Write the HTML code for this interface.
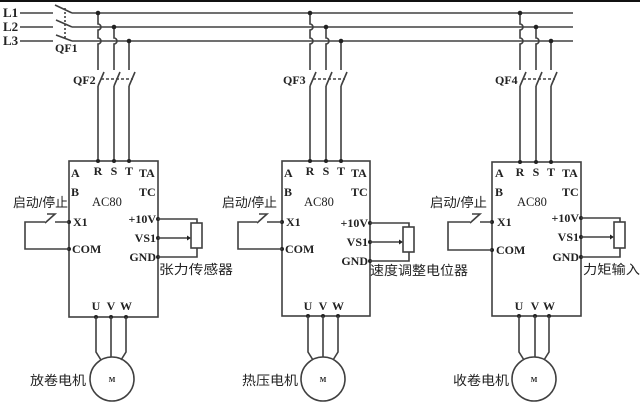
<!DOCTYPE html>
<html><head><meta charset="utf-8"><style>
html,body{margin:0;padding:0;background:#fff;}
svg{display:block;}
.ln{stroke:#404040;stroke-width:1.6;fill:none;}
.t{font-family:"Liberation Serif",serif;font-size:12px;fill:#222;font-weight:bold;}
.c{font-family:"Liberation Sans","Noto Sans CJK SC",sans-serif;font-size:13px;fill:#222;}
.d{fill:#222;}
</style></head><body>
<svg width="640" height="409" viewBox="0 0 640 409" xmlns="http://www.w3.org/2000/svg">
<rect x="0" y="0" width="640" height="409" fill="#fff"/>
<rect x="0" y="0" width="640" height="2" fill="#111"/>

<!-- bus -->
<text class="t" x="3" y="17" style="font-size:13px">L1</text>
<text class="t" x="3" y="31" style="font-size:13px">L2</text>
<text class="t" x="3" y="45" style="font-size:13px">L3</text>
<path class="ln" d="M20,13 H53 M55,5 L72,13 M72,13 H573 M20,27 H53 M56,20 L72,27 M72,27 H573 M20,41 H53 M56,35 L72,41 M72,41 H573"/>
<path class="ln" d="M65,8 V40" stroke-dasharray="2,2" stroke-width="1.2"/>
<text class="t" x="55" y="52">QF1</text>

<!-- drive 1 -->
<g>
<path class="ln" d="M98,13 V24 a3,3 0 0 1 0,6 V38 a3,3 0 0 1 0,6 V70 M114,27 V38 a3,3 0 0 1 0,6 V70 M129,41 V70"/>
<circle class="d" cx="98" cy="13" r="2.3"/><circle class="d" cx="114" cy="27" r="2.3"/><circle class="d" cx="129" cy="41" r="2.3"/>
<path class="ln" d="M98,86 L104,72 M114,86 L120,72 M129,86 L135,72"/>
<path class="ln" d="M101,79 H133" stroke-dasharray="3,2" stroke-width="1.2"/>
<text class="t" x="73" y="84">QF2</text>
<path class="ln" d="M98,86 V161 M114,86 V161 M129,86 V161"/>
<rect class="ln" x="69" y="161" width="89" height="156"/>
<circle class="d" cx="98" cy="161" r="2"/><circle class="d" cx="114" cy="161" r="2"/><circle class="d" cx="129" cy="161" r="2"/>
<text class="t" x="98" y="175" text-anchor="middle">R</text>
<text class="t" x="114" y="175" text-anchor="middle">S</text>
<text class="t" x="129" y="175" text-anchor="middle">T</text>
<text class="t" x="71" y="177">A</text>
<text class="t" x="71" y="196">B</text>
<text class="t" x="139" y="177">TA</text>
<text class="t" x="139" y="196">TC</text>
<text class="t" x="92" y="206" style="font-weight:normal;font-size:12.5px">AC80</text>
<text class="t" x="73" y="226">X1</text>
<text class="t" x="72" y="253">COM</text>
<text class="t" x="156" y="223" text-anchor="end">+10V</text>
<text class="t" x="156" y="242" text-anchor="end">VS1</text>
<text class="t" x="156" y="261" text-anchor="end">GND</text>
<circle class="d" cx="69" cy="222" r="2"/><circle class="d" cx="69" cy="249" r="2"/>
<path class="ln" d="M69,222 H55 M47,214 H55 L45,223 M45,222 H25 V249 H69"/>
<text class="c" x="13" y="207" textLength="55" lengthAdjust="spacingAndGlyphs">启动/停止</text>
<circle class="d" cx="158" cy="219" r="2"/><circle class="d" cx="158" cy="238" r="2"/><circle class="d" cx="158" cy="257" r="2"/>
<path class="ln" d="M158,219 H197 V223 M158,257 H197 V248 M158,238 H188"/>
<path class="d" d="M191,238 l-4,-2.5 v5 z"/>
<rect class="ln" x="191" y="223" width="11" height="25"/>
<text class="c" x="159" y="274" textLength="74" lengthAdjust="spacingAndGlyphs">张力传感器</text>
<text class="t" x="96" y="310" text-anchor="middle">U</text>
<text class="t" x="111" y="310" text-anchor="middle">V</text>
<text class="t" x="126" y="310" text-anchor="middle">W</text>
<circle class="d" cx="96" cy="317" r="2"/><circle class="d" cx="111" cy="317" r="2"/><circle class="d" cx="126" cy="317" r="2"/>
<path class="ln" d="M96,317 V352 L101,360 M111,317 V357 M126,317 V352 L121,360"/>
<circle class="ln" cx="112" cy="379" r="22"/>
<text class="t" x="112" y="382" text-anchor="middle" style="font-size:7px">M</text>
<text class="c" x="30" y="385" textLength="56" lengthAdjust="spacingAndGlyphs">放卷电机</text>
</g>

<!-- drive 2 -->
<g transform="translate(212,0)">
<path class="ln" d="M98,13 V24 a3,3 0 0 1 0,6 V38 a3,3 0 0 1 0,6 V70 M114,27 V38 a3,3 0 0 1 0,6 V70 M129,41 V70"/>
<circle class="d" cx="98" cy="13" r="2.3"/><circle class="d" cx="114" cy="27" r="2.3"/><circle class="d" cx="129" cy="41" r="2.3"/>
<path class="ln" d="M98,86 L104,72 M114,86 L120,72 M129,86 L135,72"/>
<path class="ln" d="M101,79 H133" stroke-dasharray="3,2" stroke-width="1.2"/>
<text class="t" x="71" y="84">QF3</text>
<path class="ln" d="M98,86 V161 M114,86 V161 M129,86 V161"/>
<rect class="ln" x="70" y="161" width="88" height="155"/>
<circle class="d" cx="98" cy="161" r="2"/><circle class="d" cx="114" cy="161" r="2"/><circle class="d" cx="129" cy="161" r="2"/>
<text class="t" x="98" y="175" text-anchor="middle">R</text>
<text class="t" x="114" y="175" text-anchor="middle">S</text>
<text class="t" x="129" y="175" text-anchor="middle">T</text>
<text class="t" x="72" y="177">A</text>
<text class="t" x="72" y="196">B</text>
<text class="t" x="139" y="177">TA</text>
<text class="t" x="139" y="196">TC</text>
<text class="t" x="92" y="206" style="font-weight:normal;font-size:12.5px">AC80</text>
<text class="t" x="74" y="226">X1</text>
<text class="t" x="73" y="253">COM</text>
<circle class="d" cx="70" cy="222" r="2"/><circle class="d" cx="70" cy="249" r="2"/>
<path class="ln" d="M70,222 H55 M47,214 H55 L45,223 M45,222 H26 V249 H70"/>
<text class="c" x="10" y="207" textLength="55" lengthAdjust="spacingAndGlyphs">启动/停止</text>
<g transform="translate(0,4)">
<text class="t" x="156" y="223" text-anchor="end">+10V</text>
<text class="t" x="156" y="242" text-anchor="end">VS1</text>
<text class="t" x="156" y="261" text-anchor="end">GND</text>
<circle class="d" cx="158" cy="219" r="2"/><circle class="d" cx="158" cy="238" r="2"/><circle class="d" cx="158" cy="257" r="2"/>
<path class="ln" d="M158,219 H197 V223 M158,257 H197 V248 M158,238 H188"/>
<path class="d" d="M191,238 l-4,-2.5 v5 z"/>
<rect class="ln" x="191" y="223" width="11" height="25"/>
</g>
<text class="c" x="158" y="275" textLength="98" lengthAdjust="spacingAndGlyphs">速度调整电位器</text>
<text class="t" x="96" y="310" text-anchor="middle">U</text>
<text class="t" x="111" y="310" text-anchor="middle">V</text>
<text class="t" x="126" y="310" text-anchor="middle">W</text>
<circle class="d" cx="96" cy="316" r="2"/><circle class="d" cx="111" cy="316" r="2"/><circle class="d" cx="126" cy="316" r="2"/>
<path class="ln" d="M96,316 V352 L101,360 M111,316 V357 M126,316 V352 L121,360"/>
<circle class="ln" cx="111" cy="379" r="22"/>
<text class="t" x="111" y="382" text-anchor="middle" style="font-size:7px">M</text>
<text class="c" x="30" y="385" textLength="56" lengthAdjust="spacingAndGlyphs">热压电机</text>
</g>

<!-- drive 3 -->
<g transform="translate(422,0)">
<path class="ln" d="M98,13 V24 a3,3 0 0 1 0,6 V38 a3,3 0 0 1 0,6 V70 M114,27 V38 a3,3 0 0 1 0,6 V70 M129,41 V70"/>
<circle class="d" cx="98" cy="13" r="2.3"/><circle class="d" cx="114" cy="27" r="2.3"/><circle class="d" cx="129" cy="41" r="2.3"/>
<path class="ln" d="M98,86 L104,72 M114,86 L120,72 M129,86 L135,72"/>
<path class="ln" d="M101,79 H133" stroke-dasharray="3,2" stroke-width="1.2"/>
<text class="t" x="73" y="84">QF4</text>
<path class="ln" d="M98,86 V162 M114,86 V162 M129,86 V162"/>
<rect class="ln" x="70" y="162" width="89" height="154"/>
<circle class="d" cx="98" cy="162" r="2"/><circle class="d" cx="114" cy="162" r="2"/><circle class="d" cx="129" cy="162" r="2"/>
<text class="t" x="98" y="176" text-anchor="middle">R</text>
<text class="t" x="114" y="176" text-anchor="middle">S</text>
<text class="t" x="129" y="176" text-anchor="middle">T</text>
<text class="t" x="73" y="177">A</text>
<text class="t" x="73" y="196">B</text>
<text class="t" x="140" y="177">TA</text>
<text class="t" x="140" y="196">TC</text>
<text class="t" x="95" y="206" style="font-weight:normal;font-size:12.5px">AC80</text>
<text class="t" x="75" y="226">X1</text>
<text class="t" x="74" y="254">COM</text>
<circle class="d" cx="70" cy="222" r="2"/><circle class="d" cx="70" cy="250" r="2"/>
<path class="ln" d="M70,222 H58 M50,214 H58 L48,223 M48,222 H26 V250 H70"/>
<text class="c" x="8" y="207" textLength="57" lengthAdjust="spacingAndGlyphs">启动/停止</text>
<g transform="translate(1,-1)">
<text class="t" x="156" y="223" text-anchor="end">+10V</text>
<text class="t" x="156" y="242" text-anchor="end">VS1</text>
<text class="t" x="156" y="262" text-anchor="end">GND</text>
<circle class="d" cx="158" cy="219" r="2"/><circle class="d" cx="158" cy="238" r="2"/><circle class="d" cx="158" cy="258" r="2"/>
<path class="ln" d="M158,219 H197 V223 M158,258 H197 V249 M158,238 H188"/>
<path class="d" d="M191,238 l-4,-2.5 v5 z"/>
<rect class="ln" x="191" y="223" width="11" height="26"/>
</g>
<text class="c" x="161" y="274" textLength="57" lengthAdjust="spacingAndGlyphs">力矩输入</text>
<text class="t" x="97" y="310" text-anchor="middle">U</text>
<text class="t" x="113" y="310" text-anchor="middle">V</text>
<text class="t" x="127" y="310" text-anchor="middle">W</text>
<circle class="d" cx="97" cy="316" r="2"/><circle class="d" cx="113" cy="316" r="2"/><circle class="d" cx="127" cy="316" r="2"/>
<path class="ln" d="M97,316 V352 L102,360 M113,316 V357 M127,316 V352 L122,360"/>
<circle class="ln" cx="112" cy="379" r="22"/>
<text class="t" x="112" y="382" text-anchor="middle" style="font-size:7px">M</text>
<text class="c" x="31" y="385" textLength="56" lengthAdjust="spacingAndGlyphs">收卷电机</text>
</g>
</svg>
</body></html>
